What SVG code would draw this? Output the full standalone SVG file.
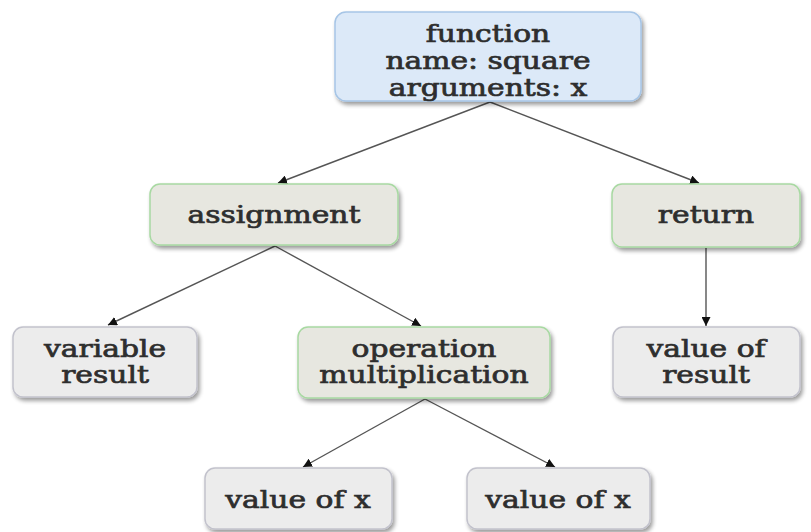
<svg xmlns="http://www.w3.org/2000/svg" width="811" height="532" viewBox="0 0 811 532">
  <defs>
    <filter id="shadow" x="-10%" y="-10%" width="130%" height="140%">
      <feGaussianBlur in="SourceAlpha" stdDeviation="2"/>
      <feOffset dx="2" dy="3" result="b"/>
      <feComponentTransfer><feFuncA type="linear" slope="0.4"/></feComponentTransfer>
      <feMerge><feMergeNode/><feMergeNode in="SourceGraphic"/></feMerge>
    </filter>
    <marker id="arrow" viewBox="0 0 10 10" refX="10" refY="5" markerWidth="9" markerHeight="9" markerUnits="userSpaceOnUse" orient="auto">
      <path d="M0,0 L10,5 L0,10 z" fill="#111"/>
    </marker>
  </defs>
  <style>
    .box { stroke-width: 1.5; filter: url(#shadow); }
    .blue { fill: #dce9f8; stroke: #a6c5e6; }
    .green { fill: #e7e7e0; stroke: #a8d9a2; }
    .grey { fill: #ececec; stroke: #c2c2cc; }
    .lbl { font-family: "DejaVu Serif", "Liberation Serif", serif; font-size: 24px; fill: #2e2e2e; stroke: #2e2e2e; stroke-width: 0.7; text-anchor: middle; }
    .edge { stroke: #555; stroke-width: 1.4; fill: none; marker-end: url(#arrow); }
  </style>

  <rect width="811" height="532" fill="#ffffff"/>

  <g id="connectors">
    <line class="edge" x1="490" y1="102" x2="278" y2="183"/>
    <line class="edge" x1="490" y1="102" x2="699" y2="183"/>
    <line class="edge" x1="275" y1="246" x2="108" y2="325"/>
    <line class="edge" x1="275" y1="246" x2="421" y2="326"/>
    <line class="edge" x1="706" y1="248" x2="706" y2="326"/>
    <line class="edge" x1="425" y1="399" x2="303" y2="467"/>
    <line class="edge" x1="425" y1="399" x2="555" y2="467"/>
  </g>

  <g id="function">
    <rect class="box blue" x="335" y="12" width="306" height="89" rx="11"/>
    <text class="lbl" transform="translate(488,0) scale(1.24,1)"><tspan x="0" y="42">function</tspan><tspan x="0" y="69">name: square</tspan><tspan x="0" y="96">arguments: x</tspan></text>
  </g>

  <g id="assignment">
    <rect class="box green" x="150" y="184" width="248" height="61" rx="10"/>
    <text class="lbl" transform="translate(274,0) scale(1.24,1)" x="0" y="223">assignment</text>
  </g>

  <g id="return">
    <rect class="box green" x="612" y="184" width="188" height="63" rx="10"/>
    <text class="lbl" transform="translate(706,0) scale(1.24,1)" x="0" y="223">return</text>
  </g>

  <g id="variable-result">
    <rect class="box grey" x="13" y="327" width="184" height="70" rx="10"/>
    <text class="lbl" transform="translate(105,0) scale(1.24,1)"><tspan x="0" y="357">variable</tspan><tspan x="0" y="383">result</tspan></text>
  </g>

  <g id="operation">
    <rect class="box green" x="298" y="327" width="252" height="71" rx="10"/>
    <text class="lbl" transform="translate(424,0) scale(1.24,1)"><tspan x="0" y="357">operation</tspan><tspan x="0" y="383">multiplication</tspan></text>
  </g>

  <g id="value-of-result">
    <rect class="box grey" x="613" y="327" width="187" height="70" rx="10"/>
    <text class="lbl" transform="translate(706,0) scale(1.24,1)"><tspan x="0" y="357">value of</tspan><tspan x="0" y="383">result</tspan></text>
  </g>

  <g id="value-of-x-left">
    <rect class="box grey" x="205" y="468" width="187" height="61" rx="10"/>
    <text class="lbl" transform="translate(298,0) scale(1.24,1)" x="0" y="508">value of x</text>
  </g>

  <g id="value-of-x-right">
    <rect class="box grey" x="467" y="468" width="183" height="61" rx="10"/>
    <text class="lbl" transform="translate(558,0) scale(1.24,1)" x="0" y="508">value of x</text>
  </g>
</svg>
